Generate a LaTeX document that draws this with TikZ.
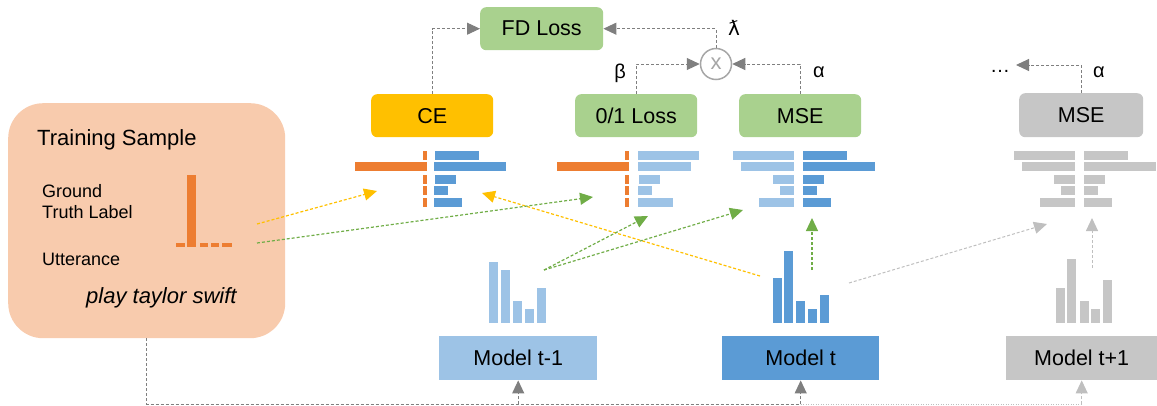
\documentclass[tikz,border=0pt]{standalone}
\usepackage{fontspec}
\setmainfont{Liberation Sans}
\newfontfamily\djv{DejaVu Sans}
\usetikzlibrary{arrows.meta}
\definecolor{peach}{HTML}{F8CBAD}
\definecolor{orgc}{HTML}{ED7D31}
\definecolor{yelc}{HTML}{FFC000}
\definecolor{grnbox}{HTML}{A9D18E}
\definecolor{grnarr}{HTML}{70AD47}
\definecolor{dblue}{HTML}{5B9BD5}
\definecolor{lblue}{HTML}{9DC3E6}
\definecolor{gbox}{HTML}{C6C6C6}
\definecolor{arrgray}{HTML}{7F7F7F}
\definecolor{lgray}{HTML}{BFBFBF}
\definecolor{cgray}{HTML}{A6A6A6}
\tikzset{
  lossbox/.style={rounded corners=6pt, inner sep=0pt, anchor=north west, font=\fontsize{21.5}{25}\selectfont},
  modelbox/.style={inner sep=0pt, anchor=north west, font=\fontsize{21.5}{25}\selectfont},
  tip/.style={-{Triangle[length=13pt,width=12pt]}},
  dsh/.style={dash pattern=on 3pt off 2pt, line width=1pt},
  garrow/.style={draw=arrgray, dsh, tip},
  gline/.style={draw=arrgray, dsh},
  lgarrow/.style={draw=lgray, dsh, tip},
  yarrow/.style={draw=yelc, dsh, line width=1.2pt, tip},
  narrow/.style={draw=grnarr, dsh, line width=1.2pt, tip},
  lbl/.style={inner sep=0pt, font=\fontsize{18}{21}\selectfont, anchor=base west},
  greek/.style={inner sep=0pt, font=\fontsize{20}{24}\selectfont},
}
\begin{document}
\begin{tikzpicture}[x=1pt,y=-1pt]
\useasboundingbox (0,0) rectangle (1157,405);

% training sample
\node[fill=peach, rounded corners=35pt, inner sep=0pt, minimum width=277pt, minimum height=235pt, anchor=north west] (train) at (8,103) {};
\node[inner sep=0pt, font=\fontsize{22}{26}\selectfont, anchor=base west] (ts) at (37,145) {Training Sample};
\node[lbl] (gr) at (42,197) {Ground};
\node[lbl] (tl) at (42,218) {Truth Label};
\node[lbl] (ut) at (42,265) {Utterance};
\node[inner sep=0pt, font=\fontsize{22}{26}\selectfont\itshape, anchor=base west] (pts) at (86,303) {play taylor swift};
\fill[orgc] (187,175) rectangle (196,247);
\foreach \a/\b in {176/185,200/208,211/219,222/232} \fill[orgc] (\a,243) rectangle (\b,247);

% loss boxes
\node[lossbox, fill=grnbox, minimum width=123pt, minimum height=43pt] (fd) at (480,7) {FD Loss};
\node[lossbox, fill=yelc, minimum width=122pt, minimum height=43pt] (ce) at (371,94) {CE};
\node[lossbox, fill=grnbox, minimum width=122pt, minimum height=43pt] (l01) at (575,94) {0/1 Loss};
\node[lossbox, fill=grnbox, minimum width=122pt, minimum height=43pt] (mse) at (739,94) {MSE};
\node[lossbox, fill=gbox, minimum width=124pt, minimum height=44pt] (mseg) at (1019,93) {MSE};
\node[circle, draw=cgray, line width=1.5pt, minimum size=31pt, inner sep=0pt, text=cgray, font=\fontsize{22}{24}\selectfont] (mult) at (716,64) {x};

% labels
\node[greek] (lam) at (734,28) {\djv ƛ};
\node[greek] (beta) at (620,73) {β};
\node[greek] (alpha) at (819,72) {α};
\node[greek] (alphag) at (1099,72) {α};
\node[inner sep=0pt, font=\fontsize{20}{24}\selectfont, anchor=base] (dots) at (1000,72) {…};

% top connectors
\draw[garrow] (ce.north) |- (fd.west);
\draw[garrow] (mult.north) |- (fd.east);
\draw[garrow] (l01.north) |- (mult.west);
\draw[garrow] (mse.north) |- (mult.east);
\coordinate (dotsE) at (1016,65);
\draw[garrow] (mseg.north) |- (dotsE);

% CE bars
\fill[orgc] (355,162) rectangle (427,171);
\foreach \a/\b in {151/160,175/184,186/195,198/207} \fill[orgc] (423,\a) rectangle (427,\b);
\fill[dblue] (435,151) rectangle (479,160);
\fill[dblue] (434,162) rectangle (506,171);
\fill[dblue] (435,175) rectangle (456,184);
\fill[dblue] (434,186) rectangle (448,195);
\fill[dblue] (434,198) rectangle (462,207);

% 0/1 bars
\fill[orgc] (557,162) rectangle (629,171);
\foreach \a/\b in {151/160,175/184,186/195,198/207} \fill[orgc] (625,\a) rectangle (629,\b);
\fill[lblue] (638,151) rectangle (699,160);
\fill[lblue] (638,162) rectangle (691,171);
\fill[lblue] (639,175) rectangle (660,184);
\fill[lblue] (638,186) rectangle (652,195);
\fill[lblue] (638,198) rectangle (673,207);

% MSE bars
\fill[lblue] (733,151) rectangle (794,160);
\fill[lblue] (741,162) rectangle (794,171);
\fill[lblue] (773,175) rectangle (794,184);
\fill[lblue] (780,186) rectangle (794,195);
\fill[lblue] (759,198) rectangle (794,207);
\fill[dblue] (803,151) rectangle (847,160);
\fill[dblue] (803,162) rectangle (875,171);
\fill[dblue] (803,175) rectangle (824,184);
\fill[dblue] (803,186) rectangle (817,195);
\fill[dblue] (803,198) rectangle (831,207);

% gray MSE bars
\fill[gbox] (1014,151) rectangle (1075,160);
\fill[gbox] (1022,162) rectangle (1075,171);
\fill[gbox] (1054,175) rectangle (1075,184);
\fill[gbox] (1061,186) rectangle (1075,195);
\fill[gbox] (1040,198) rectangle (1075,207);
\fill[gbox] (1084,151) rectangle (1128,160);
\fill[gbox] (1084,162) rectangle (1156,171);
\fill[gbox] (1084,175) rectangle (1105,184);
\fill[gbox] (1084,186) rectangle (1098,195);
\fill[gbox] (1084,198) rectangle (1112,207);

% model output bars
\foreach \x/\t in {489/262,501/270,513/301,525/309,537/288} \fill[lblue] (\x,\t) rectangle (\x+9,323);
\foreach \x/\t in {773/278,784/251,796/301,808/309,820/295} \fill[dblue] (\x,\t) rectangle (\x+9,323);
\foreach \x/\t in {1056/288,1067/259,1080/301,1091/309,1103/280} \fill[gbox] (\x,\t) rectangle (\x+9,323);

% model boxes
\node[modelbox, fill=lblue, minimum width=158pt, minimum height=44pt] (m1) at (439,336) {Model t-1};
\node[modelbox, fill=dblue, minimum width=157pt, minimum height=44pt] (mt) at (722,336) {Model t};
\node[modelbox, fill=gbox, minimum width=151pt, minimum height=44pt] (m2) at (1006,336) {Model t+1};

% colored connectors
\coordinate (gtY) at (257,224); \coordinate (ceT) at (377,191);
\coordinate (gtG) at (257,243); \coordinate (lT) at (593,197);
\coordinate (mtA) at (760,276); \coordinate (ceT2) at (482,193);
\coordinate (m1A) at (544,270); \coordinate (lT2) at (648,216);
\coordinate (mseT) at (743,210);
\coordinate (mtU) at (812,270); \coordinate (mseU) at (812,218);
\coordinate (mtB) at (849,283); \coordinate (gT) at (1047,224);
\coordinate (m2U) at (1092,268); \coordinate (gU) at (1092,218);
\draw[yarrow] (gtY) -- (ceT);
\draw[yarrow] (mtA) -- (ceT2);
\draw[narrow] (gtG) -- (lT);
\draw[narrow] (m1A) -- (lT2);
\draw[narrow] (m1A) -- (mseT);
\draw[narrow] (mtU) -- (mseU);
\draw[lgarrow] (mtB) -- (gT);
\draw[lgarrow] (m2U) -- (gU);

% bottom connectors
\coordinate (m1b) at ([yshift=-24pt]m1.south);
\coordinate (mtb) at ([yshift=-24pt]mt.south);
\coordinate (m2b) at ([yshift=-24pt]m2.south);
\draw[gline] (train.south) |- (mtb);
\draw[garrow] (m1b) -- (m1.south);
\draw[garrow] (mtb) -- (mt.south);
\draw[draw=lgray, dash pattern=on 1pt off 1.5pt, line width=1pt] (mtb) -- (m2b);
\draw[lgarrow] (m2b) -- (m2.south);
\end{tikzpicture}
\end{document}
